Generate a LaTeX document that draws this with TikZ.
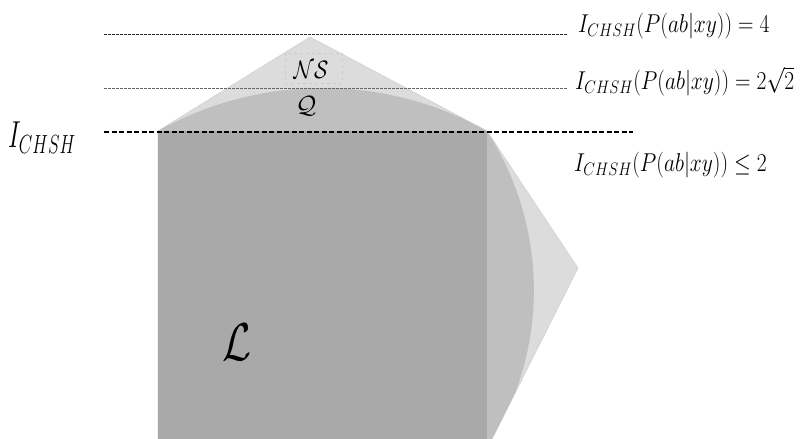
\RequirePackage{fix-cm}
\documentclass[tikz,border=0pt]{standalone}
\usepackage{amsmath}
\usepackage{graphicx}
\begin{document}
\begin{tikzpicture}[x=1pt,y=1pt,
  nsfill/.style={fill=nsgray,draw=gray!35,line width=0.6pt,line join=round},
  qfill/.style={fill=qgray},
  lfill/.style={fill=lgray},
  thinline/.style={dash pattern=on 2.5pt off 1.5pt,line width=0.6pt},
  boldline/.style={dash pattern=on 5pt off 2.5pt,line width=1.3pt},
  lab/.style={anchor=base west,inner sep=0pt,font=\fontsize{21.5}{25}\selectfont}]
\definecolor{nsgray}{HTML}{DCDCDC}
\definecolor{qgray}{HTML}{BFBFBF}
\definecolor{lgray}{HTML}{A9A9A9}
\useasboundingbox (0,0) rectangle (801,439);
\begin{scope}
\clip (0,0) rectangle (801,439);
% no-signalling polytope
\draw[nsfill] (158,308) -- (310,402) -- (487,308) -- (578,171) -- (487,-10) -- (158,-10) -- cycle;
% quantum set (kept inside the no-signalling polytope)
\begin{scope}
\clip (158,308) -- (310,402) -- (487,308) -- (578,171) -- (487,-10) -- (158,-10) -- cycle;
\fill[qfill] (158,308) arc[start angle=119.3,end angle=60.7,radius=336]
  arc[start angle=32.94,end angle=-33,radius=292.4] -- (487,-20) -- (158,-20) -- cycle;
\end{scope}
% local polytope
\fill[lfill] (158,-20) rectangle (487,308);
\end{scope}
% level lines
\coordinate (a1) at (104,405); \coordinate (a2) at (567,405);
\coordinate (b1) at (104,351); \coordinate (b2) at (567,351);
\coordinate (c1) at (104,307); \coordinate (c2) at (633,307);
\draw[thinline,black!85] (a1) -- (a2);
\draw[thinline,black!60] (b1) -- (b2);
\draw[boldline] (c1) -- (c2);
% labels
\node[lab] (l4) at (578,406) {\scalebox{1}[1.2]{$I_{CHSH}(P(ab|xy))=4$}};
\node[lab] (l2) at (575,349) {\scalebox{1}[1.2]{$I_{CHSH}(P(ab|xy))=2\sqrt{2}$}};
\node[lab] (l0) at (574,267.5) {\scalebox{1}[1.2]{$I_{CHSH}(P(ab|xy))\le 2$}};
\node[anchor=base west,inner sep=0pt,font=\fontsize{25}{29}\selectfont] (ich) at (8,291) {\scalebox{1}[1.5]{$I_{CHSH}$}};
\node[draw=gray!40,dashed,line width=0.6pt,inner sep=0pt,minimum width=57pt,minimum height=30pt] (nsbox) at (313.5,371) {};
\node[font=\fontsize{21}{25}\selectfont] (ns) at (311,369) {\scalebox{1}[1.2]{$\mathcal{N}\mathcal{S}$}};
\node[font=\fontsize{25}{29}\selectfont] (q) at (306,333) {$\mathcal{Q}$};
\node[font=\fontsize{42}{48}\selectfont] (l) at (237,97) {\scalebox{1}[1.27]{$\mathcal{L}$}};
\end{tikzpicture}
\end{document}
